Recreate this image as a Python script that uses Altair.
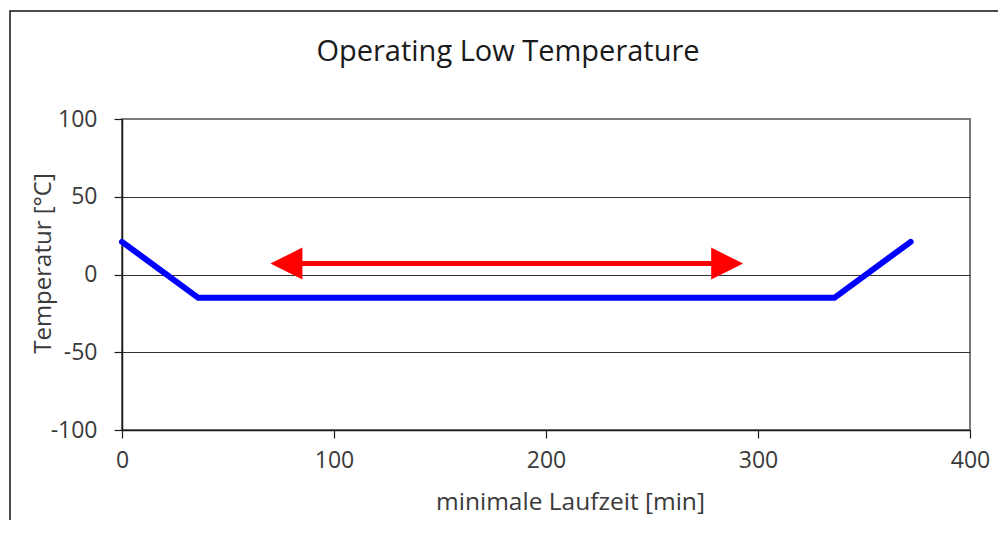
import altair as alt
import pandas as pd

# Blue line: minimale Laufzeit [min] vs Temperatur [°C]
laufzeit = [0, 36, 336, 372]
temperatur = [21, -15, -15, 21]

# Red double arrow (start / end in minutes, level in °C)
arrow_start = [70]
arrow_end = [293]
arrow_level = [7]

x_ticks = [0, 100, 200, 300, 400]
y_ticks = [-100, -50, 0, 50, 100]

FONT = "Open Sans"
TXT = "#3a3a3a"

line_df = pd.DataFrame({"t": laufzeit, "temp": temperatur})
arrow_df = pd.DataFrame({"x1": arrow_start, "x2": arrow_end, "y": arrow_level})
left_head = pd.DataFrame({"x": arrow_start, "y": arrow_level})
right_head = pd.DataFrame({"x": arrow_end, "y": arrow_level})

xscale = alt.Scale(domain=[0, 400], nice=False, zero=False)
yscale = alt.Scale(domain=[-100, 100], nice=False, zero=False)

xaxis = alt.Axis(
    values=x_ticks, grid=False, domainColor="#1a1a1a", domainWidth=1.5,
    tickColor="#1a1a1a", tickSize=8, tickWidth=1.2,
    labelFont=FONT, labelFontSize=23, labelColor=TXT, labelPadding=11,
    labelFlush=False, labelOverlap=False, labelExpr="toString(datum.value)",
    title="minimale Laufzeit [min]", titleFont=FONT, titleFontSize=24.5,
    titleFontWeight="normal", titleColor=TXT, titleX=448, titleY=79,
    titleBaseline="alphabetic", titleAlign="center",
)
yaxis = alt.Axis(
    values=y_ticks, grid=True,
    gridColor={"condition": {"test": "datum.value == 100", "value": "transparent"}, "value": "#333333"},
    gridWidth=1.1,
    domainColor="#1a1a1a", domainWidth=1.5,
    tickColor="#1a1a1a", tickSize=8, tickWidth=1.2,
    labelFont=FONT, labelFontSize=23, labelColor=TXT, labelPadding=17,
    labelFlush=False, labelOverlap=False, labelExpr="toString(datum.value)",
    title="Temperatur [°C]", titleFont=FONT, titleFontSize=24,
    titleFontWeight="normal", titleColor=TXT, titleX=-72, titleY=144,
    titleBaseline="alphabetic", titleAlign="center", titleAngle=270,
)

frame = alt.Chart(pd.DataFrame({"a": [0]})).mark_rect(
    fill=None, stroke="#111111", strokeWidth=1.5
).encode(
    x=alt.value(-112), x2=alt.value(1200), y=alt.value(-108), y2=alt.value(800)
)

blue = alt.Chart(line_df).mark_line(
    color="#0000ff", strokeWidth=6, strokeCap="round", strokeJoin="round"
).encode(
    x=alt.X("t:Q", scale=xscale, axis=xaxis),
    y=alt.Y("temp:Q", scale=yscale, axis=yaxis),
)

shaft = alt.Chart(arrow_df).mark_rule(
    color="#ff0000", strokeWidth=5, xOffset=16, x2Offset=-16
).encode(
    x=alt.X("x1:Q", scale=xscale), x2="x2:Q", y=alt.Y("y:Q", scale=yscale)
)

lhead = alt.Chart(left_head).mark_point(
    shape="M -1 0 L 1 -1 L 1 1 Z", size=1024, filled=True, color="#ff0000",
    opacity=1, strokeWidth=0, xOffset=16
).encode(x=alt.X("x:Q", scale=xscale), y=alt.Y("y:Q", scale=yscale))

rhead = alt.Chart(right_head).mark_point(
    shape="M 1 0 L -1 -1 L -1 1 Z", size=1024, filled=True, color="#ff0000",
    opacity=1, strokeWidth=0, xOffset=-16
).encode(x=alt.X("x:Q", scale=xscale), y=alt.Y("y:Q", scale=yscale))

chart = alt.layer(frame, blue, shaft, lhead, rhead).properties(
    width=848, height=311,
    title=alt.TitleParams(
        "Operating Low Temperature", font=FONT, fontSize=29, fontWeight="normal",
        color="#1a1a1a", anchor="middle", dx=-38, offset=-80, baseline="alphabetic",
    ),
    view=alt.ViewBackground(stroke="#7a7a7a", strokeWidth=2, strokeOpacity=1),
    autosize=alt.AutoSizeParams(type="none"),
    padding={"left": 114, "top": 111, "right": 28, "bottom": 90},
).configure_view(
    stroke="#7a7a7a", strokeWidth=2, strokeOpacity=1
).configure(background="white")

chart.save("out.html", embed_options={"renderer": "svg", "actions": False})
